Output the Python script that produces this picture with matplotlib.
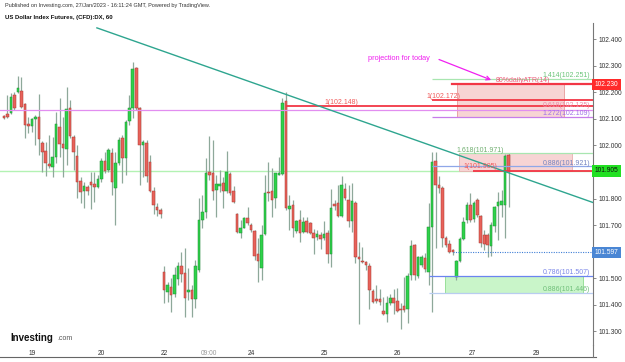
import matplotlib
matplotlib.use('Agg')
import matplotlib.pyplot as plt
from matplotlib.patches import Rectangle
from matplotlib.lines import Line2D
import matplotlib.transforms as mtransforms

plt.rcParams['font.family'] = ['Liberation Sans', 'DejaVu Sans']

# ---------------- data (hourly candles, US Dollar Index Futures) ----------------
opens = [102.111, 102.117, 102.121, 102.190, 102.200, 102.205, 102.155, 102.080, 102.075, 102.100,
         102.109, 102.011, 101.979, 101.929, 101.919, 101.958, 102.071, 102.006, 101.987, 102.143,
         102.033, 101.961, 101.866, 101.830, 101.845, 101.864, 101.855, 101.845, 101.874, 101.942,
         101.908, 101.971, 101.839, 101.933, 102.027, 101.954, 102.094, 102.143, 102.293, 102.140,
         102.000, 102.011, 101.937, 101.829, 101.770, 101.757, 101.525, 101.450, 101.466, 101.440,
         101.497, 101.546, 101.519, 101.450, 101.455, 101.421, 101.531, 101.720, 101.751, 101.899,
         101.895, 101.833, 101.848, 101.858, 101.829, 101.892, 101.829, 101.741, 101.672, 101.691,
         101.727, 101.701, 101.678, 101.590, 101.540, 101.666, 101.826, 101.829, 101.801, 101.889,
         101.893, 102.169, 101.760, 101.776, 101.678, 101.720, 101.676, 101.717, 101.709, 101.669,
         101.654, 101.663, 101.650, 101.669, 101.593, 101.779, 101.784, 101.734, 101.835, 101.794,
         101.717, 101.784, 101.580, 101.565, 101.560, 101.547, 101.452, 101.420, 101.420, 101.378,
         101.364, 101.405, 101.424, 101.414, 101.386, 101.397, 101.383, 101.513, 101.626, 101.509,
         101.550, 101.575, 101.525, 101.692, 101.943, 101.850, 101.839, 101.651, 101.629, 101.607,
         101.504, 101.566, 101.648, 101.720, 101.776, 101.723, 101.795, 101.735, 101.663, 101.663,
         101.622, 101.695, 101.772, 101.776, 101.776, 101.965]
highs = [102.115, 102.190, 102.197, 102.200, 102.263, 102.258, 102.159, 102.109, 102.105, 102.115,
         102.194, 102.017, 102.012, 102.040, 102.033, 102.128, 102.178, 102.109, 102.219, 102.172,
         102.040, 102.002, 101.883, 101.864, 101.851, 101.902, 101.902, 101.889, 101.952, 101.977,
         101.989, 101.989, 101.977, 102.033, 102.040, 102.096, 102.190, 102.316, 102.297, 102.146,
         102.021, 102.021, 101.964, 101.845, 101.782, 101.764, 101.548, 101.487, 101.500, 101.544,
         101.563, 101.600, 101.615, 101.538, 101.475, 101.569, 101.801, 101.814, 101.952, 102.034,
         102.021, 101.889, 101.908, 101.883, 101.980, 101.902, 101.848, 101.745, 101.720, 101.732,
         101.770, 101.707, 101.682, 101.651, 101.701, 101.889, 101.936, 101.914, 101.898, 101.958,
         102.178, 102.201, 101.814, 101.795, 101.720, 101.757, 101.732, 101.732, 101.713, 101.684,
         101.681, 101.675, 101.717, 101.681, 101.838, 101.794, 101.853, 101.886, 101.857, 101.853,
         101.857, 101.791, 101.637, 101.616, 101.565, 101.556, 101.458, 101.474, 101.458, 101.428,
         101.433, 101.439, 101.458, 101.462, 101.405, 101.506, 101.519, 101.644, 101.629, 101.582,
         101.588, 101.594, 101.782, 101.977, 101.977, 101.885, 101.848, 101.659, 101.644, 101.610,
         101.569, 101.657, 101.730, 101.789, 101.820, 101.791, 101.801, 101.739, 101.682, 101.669,
         101.713, 101.772, 101.826, 101.833, 101.968, 101.971]
lows = [102.099, 102.102, 102.117, 102.134, 102.197, 102.140, 102.027, 102.046, 102.052, 102.002,
        101.964, 101.902, 101.886, 101.914, 101.883, 101.933, 101.958, 101.883, 101.927, 102.027,
        101.908, 101.801, 101.782, 101.764, 101.814, 101.760, 101.789, 101.839, 101.864, 101.895,
        101.902, 101.814, 101.701, 101.927, 101.858, 101.889, 102.077, 102.102, 102.134, 101.851,
        101.883, 101.864, 101.826, 101.741, 101.736, 101.726, 101.406, 101.412, 101.374, 101.431,
        101.475, 101.487, 101.355, 101.418, 101.355, 101.387, 101.525, 101.688, 101.726, 101.870,
        101.795, 101.730, 101.826, 101.764, 101.820, 101.814, 101.785, 101.669, 101.651, 101.688,
        101.701, 101.676, 101.569, 101.487, 101.494, 101.663, 101.792, 101.732, 101.764, 101.889,
        101.889, 101.757, 101.682, 101.657, 101.669, 101.638, 101.669, 101.669, 101.666, 101.593,
        101.644, 101.612, 101.644, 101.558, 101.543, 101.757, 101.729, 101.732, 101.794, 101.694,
        101.675, 101.556, 101.327, 101.556, 101.531, 101.383, 101.405, 101.405, 101.399, 101.361,
        101.336, 101.399, 101.367, 101.374, 101.307, 101.374, 101.330, 101.494, 101.494, 101.500,
        101.544, 101.525, 101.475, 101.374, 101.613, 101.820, 101.619, 101.619, 101.594, 101.588,
        101.494, 101.563, 101.644, 101.707, 101.713, 101.713, 101.732, 101.619, 101.607, 101.579,
        101.582, 101.676, 101.644, 101.732, 101.651, 101.770]
closes = [102.102, 102.109, 102.184, 102.140, 102.215, 102.146, 102.077, 102.074, 102.100, 102.109,
          102.023, 101.974, 101.933, 101.923, 101.956, 102.080, 102.005, 101.989, 102.138, 102.036,
          101.974, 101.861, 101.824, 101.848, 101.830, 101.851, 101.843, 101.874, 101.943, 101.904,
          101.983, 101.861, 101.933, 102.021, 101.954, 102.090, 102.140, 102.288, 102.140, 102.002,
          102.012, 101.886, 101.829, 101.776, 101.757, 101.742, 101.456, 101.475, 101.437, 101.512,
          101.548, 101.515, 101.425, 101.457, 101.421, 101.548, 101.720, 101.748, 101.895, 101.889,
          101.830, 101.854, 101.854, 101.829, 101.899, 101.820, 101.789, 101.673, 101.690, 101.726,
          101.707, 101.680, 101.585, 101.565, 101.662, 101.820, 101.820, 101.795, 101.895, 101.895,
          102.159, 101.766, 101.774, 101.691, 101.716, 101.672, 101.713, 101.673, 101.671, 101.650,
          101.666, 101.646, 101.666, 101.593, 101.765, 101.772, 101.734, 101.851, 101.801, 101.717,
          101.791, 101.581, 101.571, 101.560, 101.550, 101.455, 101.409, 101.414, 101.411, 101.365,
          101.408, 101.426, 101.405, 101.378, 101.380, 101.381, 101.509, 101.622, 101.513, 101.579,
          101.579, 101.534, 101.692, 101.936, 101.851, 101.841, 101.653, 101.626, 101.597, 101.599,
          101.566, 101.648, 101.710, 101.776, 101.720, 101.785, 101.738, 101.632, 101.629, 101.626,
          101.701, 101.770, 101.789, 101.791, 101.961, 101.905]

day_ticks = [8, 28, 46, 59, 71, 92, 113, 134.5, 153]
day_labels = ['19', '20', '22', '09:00', '24', '25', '26', '27', '29']
price_ticks = [101.3, 101.4, 101.5, 101.6, 101.7, 101.8, 101.9, 102.0, 102.1, 102.2, 102.3, 102.4]
# tick labels hidden behind the price tags (as in the reference)
hidden_ticks = [101.6, 101.9]

# drawings
trend_x = [26.7, 169.3]
trend_y = [102.443, 101.785]
last_price = 101.905
atr_level = 102.230
dotted_level = 101.597
# (ratio, value, start bar, line colour)
fib_lines = [
    ('1.414', 102.251, 123.0, '#a8e6b0'),
    ('1', 102.172, 123.0, '#f23645'),
    ('1', 102.148, 81.0, '#f23645'),
    ('0.618', 102.135, -2.0, '#e28ef0'),
    ('1.272', 102.109, 123.0, '#c77dea'),
    ('1.618', 101.971, 130.7, '#a8e6b0'),
    ('0.886', 101.921, 123.0, '#8fa7e8'),
    ('1', 101.905, 134.8, '#f23645'),
    ('0.786', 101.507, 122.0, '#6b84f0'),
    ('0.886', 101.446, 122.0, '#b9cdf0'),
]
atr_box = (130.1, 161.0, 102.106, 102.230)
rect2_box = (130.8, 163.1, 101.905, 101.971)
green_box = (126.7, 166.3, 101.446, 101.507)

# ---------------- figure ----------------
W, H = 625, 362
fig = plt.figure(figsize=(W / 100, H / 100), dpi=100)
top_px, bot_px, right_px = 23, 345, 593
ax = fig.add_axes([0, 1 - bot_px / H, right_px / W, (bot_px - top_px) / H])

def px2price(y):
    return 102.4 - (y - 39.3) / 265.5

ax.set_ylim(px2price(bot_px), px2price(top_px))
ax.set_xlim(-1.149, 169.25)

up_c, up_e = '#2ed24a', '#1f8f35'
dn_c, dn_e = '#e8625a', '#a93a33'
wick_c = '#8ea89a'
n = len(opens)
for i in range(n):
    o, h, l, c = opens[i], highs[i], lows[i], closes[i]
    ax.plot([i, i], [l, h], color=wick_c, lw=0.9, solid_capstyle='butt', zorder=2)
    up = c >= o
    b = min(o, c)
    hgt = max(abs(c - o), 0.004)
    ax.add_patch(Rectangle((i - 0.37, b), 0.74, hgt, facecolor=up_c if up else dn_c,
                           edgecolor=up_e if up else dn_e, lw=0.35, zorder=3))

# full-width last price line
ax.axhline(last_price, color='#b3f2b3', lw=1.0, zorder=1)

# boxes
for (x0, x1, y0, y1), fc, ec in [(atr_box, '#f7d4d4', '#e89a9a'),
                                 (rect2_box, '#f7d4d4', '#e8b0b0'),
                                 (green_box, '#c9f5c9', '#8edc8e')]:
    ax.add_patch(Rectangle((x0, y0), x1 - x0, y1 - y0, facecolor=fc, edgecolor=ec,
                           lw=0.6, zorder=1.5))

xr = 169.25
for ratio, val, xs, col in fib_lines:
    lw = 1.3 if col == '#f23645' else 0.9
    ax.plot([xs, xr], [val, val], color=col, lw=lw, zorder=4, solid_capstyle='butt')

# ATR line
ax.plot([128.7, xr], [atr_level, atr_level], color='#f23645', lw=1.6, zorder=4)
# dotted level
ax.plot([129.0, xr], [dotted_level, dotted_level], color='#3f7fd6', lw=0.8,
        linestyle=(0, (1, 1.2)), zorder=4)

# trend line
ax.plot(trend_x, trend_y, color='#2ea58f', lw=1.0, zorder=5)

fs = 5.0
def rlabel(txt, val, col, dy=0.011):
    ax.text(168.4, val + dy, txt, ha='right', va='center', fontsize=fs, color=col, zorder=6)

rlabel('1.414(102.251)', 102.251, '#6cc47a', 0.012)
rlabel('0.618(102.135)', 102.135, '#f08aa8', 0.014)
rlabel('1.272(102.109)', 102.109, '#a070e8', 0.012)
rlabel('0.886(101.921)', 101.921, '#7383c0', 0.010)
rlabel('0.786(101.507)', 101.507, '#7a86e8', 0.013)
rlabel('0.886(101.446)', 101.446, '#6fbf7a', 0.013)
ax.text(121.3, 102.183, '1(102.172)', ha='left', va='center', fontsize=fs, color='#f05a5a', zorder=6)
ax.text(92.0, 102.161, '1(102.148)', ha='left', va='center', fontsize=fs, color='#f05a5a', zorder=6)
ax.text(130.0, 101.983, '1.618(101.971)', ha='left', va='center', fontsize=fs, color='#6fae6f', zorder=6)
ax.text(131.9, 101.920, '1(101.905)', ha='left', va='center', fontsize=fs, color='#f05a5a', zorder=6)
ax.text(149.0, 102.243, '80%dailyATR(14)', ha='center', va='center', fontsize=fs, color='#f05a7a', zorder=6)

# projection text and arrow
ax.text(104.5, px2price(59), 'projection for today', ha='left', va='center',
        fontsize=5.3, color='#f020f0', zorder=6)
ax.annotate('', xy=(140.0, px2price(80)), xytext=(125.0, px2price(59.5)),
            arrowprops=dict(arrowstyle='->', color='#f020f0', lw=0.9,
                            mutation_scale=7, shrinkA=0, shrinkB=0), zorder=6)

# axes styling
for s in ['top', 'left', 'bottom']:
    ax.spines[s].set_visible(False)
ax.spines['right'].set_color('#777777')
ax.spines['right'].set_linewidth(0.8)
ax.yaxis.tick_right()
ax.set_yticks(price_ticks, ['' if any(abs(v - hv) < 1e-9 for hv in hidden_ticks) else '%.3f' % v
                            for v in price_ticks])
ax.tick_params(axis='y', length=2.5, width=0.6, color='#777777', labelsize=4.8,
               labelcolor='#333333', pad=1.5)
ax.set_xticks(day_ticks, day_labels)
ax.tick_params(axis='x', length=0, labelsize=4.8, labelcolor='#333333', pad=3.5)
for t in ax.get_xticklabels():
    if t.get_text() == '09:00':
        t.set_color('#999999')

# price tags on axis
trans = mtransforms.blended_transform_factory(ax.transAxes, ax.transData)
for val, bg, fg in [(atr_level, '#ff2a2a', 'white'), (last_price, '#22e022', '#111111'),
                    (dotted_level, '#4a86d4', 'white')]:
    ax.text(1.003, val, '%.3f' % val, transform=trans, ha='left', va='center', fontsize=4.8,
            color=fg, zorder=7, clip_on=False,
            bbox=dict(boxstyle='square,pad=0.35', facecolor=bg, edgecolor='none'))

# bottom line of time axis
fig.add_artist(Line2D([0, 596 / W], [1 - 357 / H] * 2, color='#666666', lw=0.8))
fig.add_artist(Line2D([right_px / W] * 2, [1 - 357 / H, 1 - bot_px / H], color='#777777', lw=0.8))

# header
fig.text(5 / W, 1 - 6 / H, 'Published on Investing.com, 27/Jan/2023 - 16:11:24 GMT, Powered by TradingView.',
         fontsize=4.0, color='#333333', va='center', ha='left')
fig.text(5 / W, 1 - 18 / H, 'US Dollar Index Futures, (CFD):DX, 60', fontsize=4.3,
         color='#111111', va='center', ha='left', fontweight='bold')

# logo
fig.text(10 / W, 1 - 338 / H, 'Investing', fontsize=7.0, fontweight='bold', color='#111111',
         va='center', ha='left')
fig.text(57 / W, 1 - 339 / H, '.com', fontsize=5.0, color='#555555', va='center', ha='left')

fig.savefig('out.png', dpi=100, facecolor='white')
